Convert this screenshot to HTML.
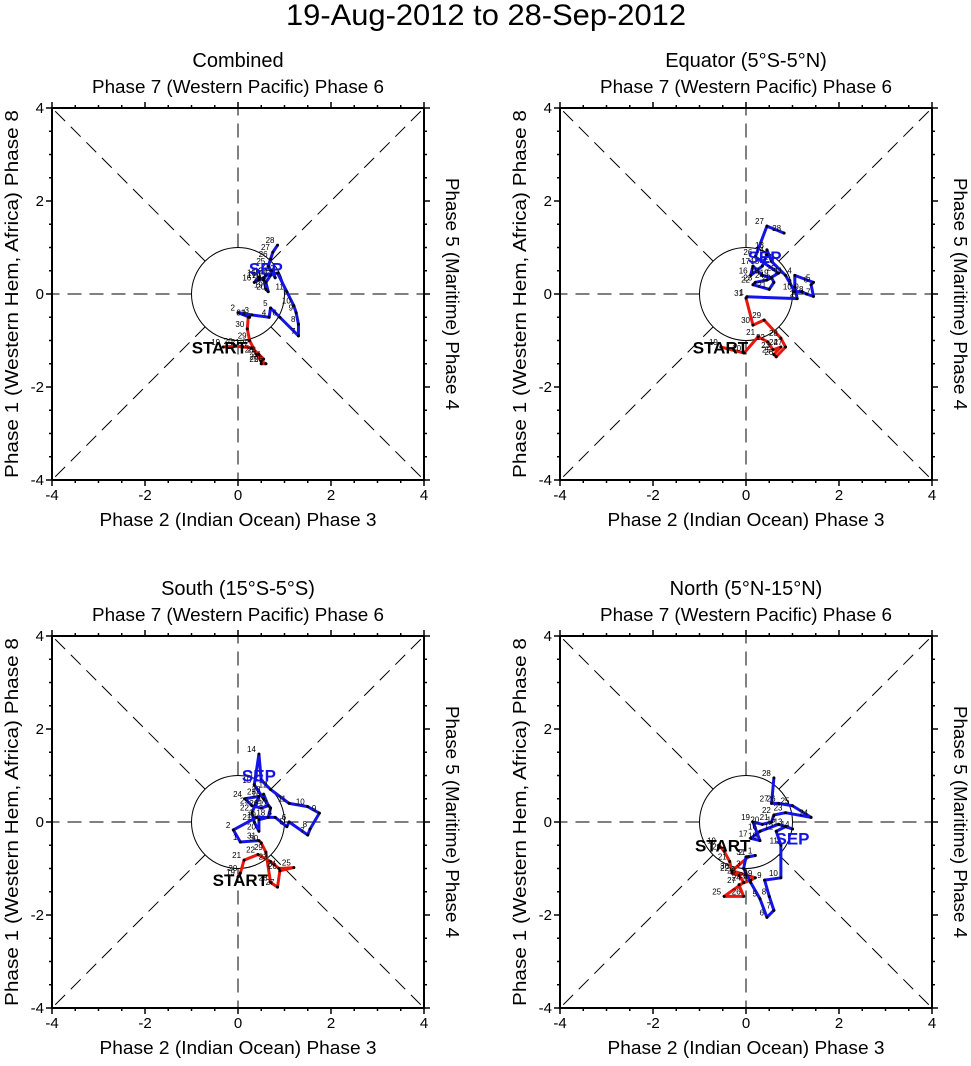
<!DOCTYPE html>
<html><head><meta charset="utf-8"><style>
body{margin:0;background:#fff;}
svg text{font-family:"Liberation Sans",sans-serif;}
</style></head><body>
<svg id="chart" width="971" height="1061" xmlns="http://www.w3.org/2000/svg">
<text x="486" y="25" font-size="30" text-anchor="middle" textLength="400" lengthAdjust="spacingAndGlyphs">19-Aug-2012 to 28-Sep-2012</text>
</svg>
<script>
const panelTitles = ["Combined", "Equator (5°S-5°N)", "South (15°S-5°S)", "North (5°N-15°N)"];
const tickLabels = ["-4", "-2", "0", "2", "4"];
const tickValues = [-4, -2, 0, 2, 4];
const augDays = [19,20,21,22,23,24,25,26,27,28,29,30,31];
const sepDays = [1,2,3,4,5,6,7,8,9,10,11,12,13,14,15,16,17,18,19,20,21,22,23,24,25,26,27,28];

const p1AugX = [-0.32,-0.05,0.1,0.3,0.45,0.55,0.5,0.6,0.5,0.4,0.25,0.2,0.22];
const p1AugY = [-1.14,-1.12,-1.14,-1.16,-1.3,-1.4,-1.5,-1.5,-1.45,-1.3,-1.0,-0.75,-0.5];
const p1SepX = [0.25,0.0,0.3,0.67,0.7,0.9,1.3,1.3,1.25,1.2,1.05,0.85,0.6,0.55,0.45,0.35,0.45,0.55,0.6,0.65,0.6,0.7,0.75,0.8,0.65,0.7,0.75,0.85];
const p1SepY = [-0.5,-0.4,-0.45,-0.5,-0.3,-0.5,-0.9,-0.65,-0.4,-0.25,0.05,0.45,0.4,0.3,0.35,0.25,0.3,0.35,0.1,0.05,0.25,0.4,0.5,0.35,0.6,0.75,0.9,1.05];

const p2AugX = [-0.54,-0.04,0.26,0.47,0.58,0.75,0.6,0.65,0.85,0.75,0.39,0.15,0.0];
const p2AugY = [-1.14,-1.27,-0.92,-1.03,-1.2,-1.14,-1.3,-1.35,-1.14,-0.95,-0.56,-0.67,-0.09];
const p2SepX = [0.02,1.1,1.05,1.05,1.45,1.4,1.45,1.3,1.2,1.05,0.85,0.55,0.45,0.45,0.35,0.1,0.15,0.35,0.55,0.6,0.5,0.15,0.2,0.45,0.7,0.2,0.45,0.82];
const p2SepY = [-0.06,-0.1,0.15,0.4,0.25,0.2,-0.05,0.0,0.05,0.05,0.4,0.7,0.95,0.85,0.6,0.4,0.6,0.4,0.35,0.25,0.1,0.2,0.25,0.3,0.45,0.8,1.46,1.31];

const p3AugX = [0.0,0.05,0.13,0.43,0.7,0.88,1.2,0.9,0.85,0.7,0.6,0.5,0.45];
const p3AugY = [-1.18,-1.1,-0.82,-0.7,-0.85,-1.0,-0.98,-1.05,-1.4,-1.3,-0.65,-0.45,-0.4];
const p3SepX = [0.05,-0.1,0.4,0.8,1.05,1.1,1.5,1.55,1.75,1.5,1.1,0.7,0.5,0.45,0.35,0.55,0.7,0.65,0.45,0.45,0.35,0.3,0.45,0.15,0.3,0.5,0.65,0.55];
const p3SepY = [-0.43,-0.17,0.1,0.1,-0.1,0.0,-0.28,-0.15,0.19,0.33,0.4,0.7,0.9,1.46,0.8,0.5,0.3,0.1,0.05,-0.2,0.0,0.2,0.55,0.5,0.35,0.3,0.35,0.6];

const p4AugX = [-0.58,-0.47,-0.35,-0.3,-0.15,-0.05,-0.47,-0.05,-0.15,0.1,0.2,-0.3,0.05];
const p4AugY = [-0.5,-0.63,-0.85,-1.1,-1.15,-1.3,-1.6,-1.6,-1.35,-1.25,-1.2,-1.05,-0.75];
const p4SepX = [0.2,0.0,-0.05,0.1,0.3,0.45,0.6,0.5,0.4,0.75,0.75,0.65,0.85,1.0,0.7,0.3,0.1,0.3,0.15,0.35,0.55,0.6,0.85,1.4,1.0,0.7,0.55,0.6];
const p4SepY = [-0.72,-0.75,-1.0,-1.3,-1.65,-2.05,-1.9,-1.6,-1.25,-1.2,-0.5,-0.2,-0.1,-0.15,-0.05,-0.2,-0.35,-0.4,0.0,-0.05,0.0,0.15,0.2,0.1,0.35,0.4,0.4,0.95];

const panels = [
 {ox:52, oy:108, ax:p1AugX, ay:p1AugY, sx:p1SepX, sy:p1SepY, sep:[0.6,0.55], start:[-0.4,-1.15]},
 {ox:560, oy:108, ax:p2AugX, ay:p2AugY, sx:p2SepX, sy:p2SepY, sep:[0.4,0.8], start:[-0.55,-1.15]},
 {ox:52, oy:636, ax:p3AugX, ay:p3AugY, sx:p3SepX, sy:p3SepY, sep:[0.45,1.0], start:[0.05,-1.25]},
 {ox:560, oy:636, ax:p4AugX, ay:p4AugY, sx:p4SepX, sy:p4SepY, sep:[1.0,-0.35], start:[-0.5,-0.5]}
];
const NS="http://www.w3.org/2000/svg";
const svg=document.getElementById('chart');
function mk(tag,attrs,parent){const e=document.createElementNS(NS,tag);for(const k in attrs)e.setAttribute(k,attrs[k]);(parent||svg).appendChild(e);return e;}
const W=372, S=W/8;
panels.forEach((p,i)=>{
  const g=mk('g',{});
  
  
  const X=v=>p.ox+(v+4)*S, Y=v=>p.oy+(4-v)*S;
  const cx=X(0), cy=Y(0);
  const dirs=[[1,0],[-1,0],[0,1],[0,-1],[1,1],[1,-1],[-1,1],[-1,-1]];
  dirs.forEach(d=>{const n=Math.hypot(d[0],d[1]);
    const l=mk('line',{x1:X(d[0]/n),y1:Y(d[1]/n),x2:X(4*d[0]),y2:Y(4*d[1]),stroke:'#000','stroke-width':1,'stroke-dasharray':'14,8'},g);
    
    });
  const c=mk('circle',{cx:cx,cy:cy,r:S,fill:'none',stroke:'#000','stroke-width':1},g);
  
  
  const fr=mk('rect',{x:p.ox,y:p.oy,width:W,height:W,fill:'none',stroke:'#000','stroke-width':2},g);
  
  
  for(let v=-4;v<=4;v+=0.5){const maj=Number.isInteger(v/2);const L=maj?6:3;
    mk('line',{x1:X(v),y1:p.oy+W,x2:X(v),y2:p.oy+W+L,stroke:'#000','stroke-width':1.5},g);
    mk('line',{x1:X(v),y1:p.oy,x2:X(v),y2:p.oy-L,stroke:'#000','stroke-width':1.5},g);
    mk('line',{x1:p.ox,y1:Y(v),x2:p.ox-L,y2:Y(v),stroke:'#000','stroke-width':1.5},g);
    mk('line',{x1:p.ox+W,y1:Y(v),x2:p.ox+W+L,y2:Y(v),stroke:'#000','stroke-width':1.5},g);}
  tickValues.forEach((v,k)=>{
    const t=mk('text',{x:X(v),y:p.oy+W+20,'font-size':15,'text-anchor':'middle'},g);t.textContent=tickLabels[k];
    
    
    const t2=mk('text',{x:p.ox-8,y:Y(v)+5,'font-size':15,'text-anchor':'end'},g);t2.textContent=tickLabels[k];
    
    });
  const tt=mk('text',{x:cx,y:p.oy-41,'font-size':20,'text-anchor':'middle'},g);tt.textContent=panelTitles[i];
  
  
  const tl=mk('text',{x:cx,y:p.oy-15,'font-size':18,'text-anchor':'middle',textLength:292,lengthAdjust:'spacingAndGlyphs'},g);tl.textContent='Phase 7 (Western Pacific) Phase 6';
  
  
  const bl=mk('text',{x:cx,y:p.oy+W+46,'font-size':18,'text-anchor':'middle',textLength:277,lengthAdjust:'spacingAndGlyphs'},g);bl.textContent='Phase 2 (Indian Ocean) Phase 3';
  
  
  const ll=mk('text',{x:0,y:0,'font-size':18,'text-anchor':'middle',textLength:368,lengthAdjust:'spacingAndGlyphs',transform:`translate(${p.ox-34},${cy}) rotate(-90)`},g);ll.textContent='Phase 1 (Western Hem, Africa) Phase 8';
  
  
  const rl=mk('text',{x:0,y:0,'font-size':18,'text-anchor':'middle',textLength:232,lengthAdjust:'spacingAndGlyphs',transform:`translate(${p.ox+W+22},${cy}) rotate(90)`},g);rl.textContent='Phase 5 (Maritime) Phase 4';
  
  
  const augPts=p.ax.map((v,k)=>X(v)+','+Y(p.ay[k]));
  const a=mk('polyline',{points:augPts.join(' '),fill:'none',stroke:'#e8160c','stroke-width':3,'stroke-linejoin':'round'},g);
  
  
  const sepPts=[X(p.ax[p.ax.length-1])+','+Y(p.ay[p.ay.length-1])].concat(p.sx.map((v,k)=>X(v)+','+Y(p.sy[k])));
  const b=mk('polyline',{points:sepPts.join(' '),fill:'none',stroke:'#1414e6','stroke-width':3,'stroke-linejoin':'round'},g);
  
  
  const dots=(xs,ys,days)=>xs.forEach((v,k)=>{
    const d=mk('circle',{cx:X(v),cy:Y(ys[k]),r:1.5,fill:'#000'},g);
    
    
    const t=mk('text',{x:X(v)-3,y:Y(ys[k])-2,'font-size':8,'text-anchor':'end'},g);t.textContent=days[k];
    
    });
  dots(p.ax,p.ay,augDays);dots(p.sx,p.sy,sepDays);
  const st=mk('text',{x:X(p.start[0]),y:Y(p.start[1])+6,'font-size':17,'font-weight':'bold','text-anchor':'middle'},g);st.textContent='START';
  
  
  const sp=mk('text',{x:X(p.sep[0]),y:Y(p.sep[1])+6,'font-size':17,'font-weight':'bold',fill:'#1414e6','text-anchor':'middle'},g);sp.textContent='SEP';
  
  
});
</script>
</body></html>
